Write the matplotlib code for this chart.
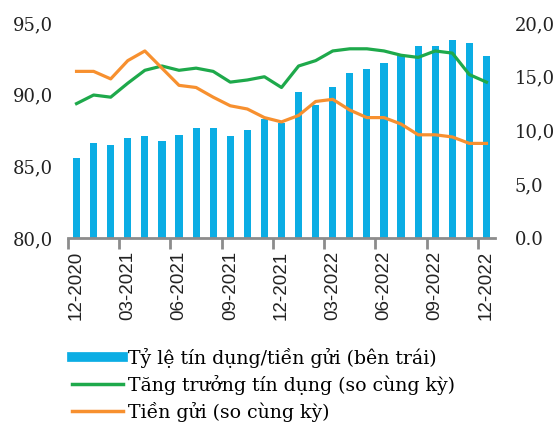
import numpy as np
import matplotlib.pyplot as plt
from matplotlib.lines import Line2D

# Dữ liệu tháng 12-2020 .. 12-2022
months = ['12-2020', '01-2021', '02-2021', '03-2021', '04-2021', '05-2021', '06-2021',
          '07-2021', '08-2021', '09-2021', '10-2021', '11-2021', '12-2021',
          '01-2022', '02-2022', '03-2022', '04-2022', '05-2022', '06-2022',
          '07-2022', '08-2022', '09-2022', '10-2022', '11-2022', '12-2022']
ldr = [85.6, 86.6, 86.5, 87.0, 87.1, 86.8, 87.2, 87.7, 87.7, 87.1, 87.5, 88.3, 88.0,
       90.2, 89.3, 90.5, 91.5, 91.8, 92.2, 92.7, 93.4, 93.4, 93.8, 93.6, 92.7]
credit_growth = [12.5, 13.3, 13.1, 14.4, 15.6, 16.0, 15.6, 15.8, 15.5, 14.5, 14.7, 15.0, 14.0,
                 16.0, 16.5, 17.4, 17.6, 17.6, 17.4, 17.0, 16.8, 17.4, 17.2, 15.2, 14.5]
deposit_growth = [15.5, 15.5, 14.8, 16.5, 17.4, 15.8, 14.2, 14.0, 13.1, 12.3, 12.0, 11.2, 10.8,
                  11.4, 12.7, 12.9, 11.9, 11.2, 11.2, 10.6, 9.6, 9.6, 9.4, 8.8, 8.8]
left_ticks = [80, 85, 90, 95]
left_labels = ['80,0', '85,0', '90,0', '95,0']
right_ticks = [0, 5, 10, 15, 20]
right_labels = ['0.0', '5,0', '10,0', '15,0', '20,0']

BLUE = '#0BADE4'
GREEN = '#1EA94B'
ORANGE = '#F7902F'
SERIF = 'DejaVu Serif'

fig = plt.figure(figsize=(5.56, 4.23), dpi=100)
ax = fig.add_axes([68 / 556, 1 - 238 / 423, 427 / 556, 215 / 423])
x = np.arange(len(months))

ax.bar(x, np.array(ldr) - 80, bottom=80, width=0.42, color=BLUE, zorder=2)
ax.set_xlim(-0.5, len(months) - 0.5)
ax.set_ylim(80, 95)
ax.set_yticks(left_ticks)
ax.set_yticklabels(left_labels, family=SERIF, fontsize=13, color='#222222')
ax.tick_params(axis='y', length=0, pad=11)

# nhãn trục x mỗi 3 tháng, vạch chia nằm giữa các cột
ax.set_xticks(x[::3])
ax.set_xticklabels(months[::3], rotation=90, fontsize=13.5, family='Liberation Sans',
                   color='#222222')
ax.set_xticks(np.arange(-0.5, len(months) - 1, 3), minor=True)
ax.tick_params(axis='x', which='major', length=0, pad=9)
ax.tick_params(axis='x', which='minor', length=8, width=2, color='#8c8c8c', direction='out')

for s in ['top', 'left', 'right']:
    ax.spines[s].set_visible(False)
ax.spines['bottom'].set_color('#8c8c8c')
ax.spines['bottom'].set_linewidth(2)

ax2 = ax.twinx()
ax2.plot(x, credit_growth, color=GREEN, lw=2.3, zorder=3)
ax2.plot(x, deposit_growth, color=ORANGE, lw=2.3, zorder=3)
ax2.set_ylim(0, 20)
ax2.set_yticks(right_ticks)
ax2.set_yticklabels(right_labels, family=SERIF, fontsize=13, color='#222222')
ax2.tick_params(axis='y', length=0, pad=14)
for s in ['top', 'left', 'right', 'bottom']:
    ax2.spines[s].set_visible(False)

handles = [Line2D([], [], color=BLUE, lw=7),
           Line2D([], [], color=GREEN, lw=2.5),
           Line2D([], [], color=ORANGE, lw=2.5)]
names = ['Tỷ lệ tín dụng/tiền gửi (bên trái)',
         'Tăng trưởng tín dụng (so cùng kỳ)',
         'Tiền gửi (so cùng kỳ)']
fig.legend(handles, names, loc='upper left', bbox_to_anchor=(64 / 556, 1 - 340 / 423),
           frameon=False, prop={'family': SERIF, 'size': 13.6}, handlelength=2.7,
           handletextpad=0.3, labelspacing=0.38, borderaxespad=0)

fig.savefig('out.png', dpi=100)
